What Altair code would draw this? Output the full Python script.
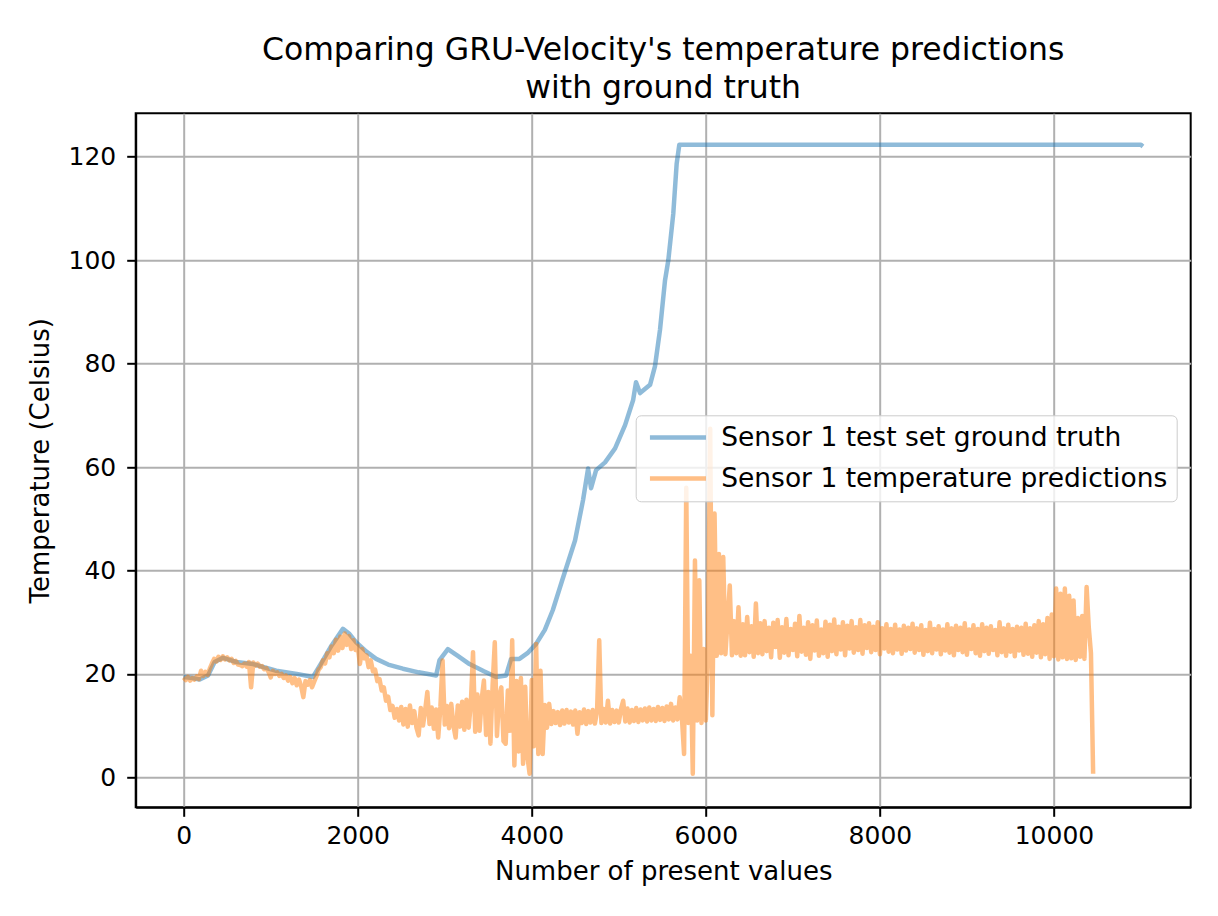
import altair as alt
import pandas as pd

GT_LABEL = "Sensor 1 test set ground truth"
PRED_LABEL = "Sensor 1 temperature predictions"

TITLE_LINES = ["Comparing GRU-Velocity's temperature predictions", "with ground truth"]
X_TITLE = "Number of present values"
Y_TITLE = "Temperature (Celsius)"
X_TICKS = [0, 2000, 4000, 6000, 8000, 10000]
Y_TICKS = [0, 20, 40, 60, 80, 100, 120]

# ground truth
gt_x = [0, 100, 184, 280, 356, 452, 605, 797, 1064, 1300, 1486, 1600, 1700, 1830, 1900,
        1983, 2100, 2212, 2350, 2519, 2700, 2901, 2939, 3036, 3150, 3284, 3450, 3590,
        3705, 3762, 3858, 3950, 4050, 4150, 4241, 4348, 4497, 4589, 4647, 4681, 4739,
        4842, 4957, 5072, 5164, 5198, 5244, 5359, 5416, 5473, 5531, 5569, 5626, 5665,
        5695, 11000, 11022]
gt_y = [19.4, 19.2, 18.9, 19.7, 22.3, 23.1, 22.3, 21.9, 20.6, 20.0, 19.4, 22.6, 25.5, 28.7, 27.8,
        26.1, 24.3, 22.9, 21.8, 21.0, 20.3, 19.7, 22.6, 24.8, 23.5, 21.9, 20.5, 19.4,
        19.7, 22.9, 22.9, 24.0, 25.8, 28.5, 32.3, 38.0, 45.8, 53.6, 59.7, 55.9, 59.4,
        60.9, 63.6, 68.1, 72.9, 76.4, 74.3, 75.9, 79.5, 86.5, 96.1, 100.0, 109.0, 118.7,
        122.3, 122.3, 122.0]

# predictions, one reading every PRED_STEP present values
PRED_STEP = 25
pred_y = [
    19.3, 18.8, 19.4, 18.7, 19.2, 18.9, 19.5, 19.0, 20.6, 19.6,
    20.4, 19.8, 21.0, 22.0, 22.9, 22.4, 23.3, 22.7, 23.4, 22.8,
    23.2, 22.6, 22.9, 22.1, 22.5, 21.8, 21.7, 21.5, 22.0, 21.4,
    22.3, 17.4, 22.2, 21.6, 22.0, 21.4, 21.5, 20.9, 21.1, 20.4,
    19.3, 20.6, 20.0, 20.3, 19.6, 20.0, 19.2, 19.7, 18.7, 19.4,
    18.2, 19.2, 17.8, 18.9, 17.6, 15.5, 18.6, 17.9, 18.8, 17.4,
    18.5, 19.5, 20.8, 21.3, 22.6, 22.0, 24.0, 23.2, 25.3, 24.0,
    26.6, 24.5, 27.2, 25.0, 27.8, 25.6, 27.3, 24.8, 26.5, 24.6,
    25.4, 21.9, 24.8, 23.0, 23.6, 21.3, 22.6, 20.5, 20.8, 18.6,
    19.0, 16.8, 17.4, 14.8, 15.6, 13.0, 13.8, 11.5, 13.2, 11.0,
    13.6, 10.2, 13.2, 9.8, 13.9, 10.5, 12.8, 9.6, 8.1, 13.4,
    10.0, 13.0, 16.5, 10.3, 13.5, 9.4, 13.1, 7.7, 13.6, 22.6,
    10.2, 13.8, 9.5, 14.2, 10.0, 7.7, 13.9, 9.8, 14.6, 9.2,
    15.0, 9.6, 14.4, 24.2, 8.8, 16.0, 9.0, 15.2, 18.7, 8.2,
    16.5, 6.5, 17.8, 26.1, 8.0, 15.6, 17.4, 7.0, 6.5, 16.8,
    9.0, 26.5, 2.3, 18.6, 5.0, 19.2, 2.6, 17.5, 4.0, 0.7,
    18.8, 6.0, 25.8, 4.5, 20.6, 4.5, 14.0, 9.6, 14.2, 10.3,
    12.8, 10.5, 12.6, 10.1, 12.9, 10.4, 13.0, 10.6, 12.7, 10.2,
    12.9, 8.4, 12.6, 10.5, 13.1, 10.3, 12.8, 10.6, 13.0, 10.4,
    12.7, 26.5, 10.5, 13.2, 10.6, 14.8, 10.4, 13.0, 10.7, 12.9,
    10.6, 13.2, 14.8, 10.8, 13.3, 10.6, 13.0, 10.9, 13.4, 10.7,
    13.1, 11.0, 13.3, 10.8, 13.5, 11.0, 13.2, 10.9, 13.6, 11.1,
    13.4, 10.9, 13.7, 11.2, 14.2, 11.0, 13.5, 11.2, 15.5, 11.5,
    4.5, 56.0, 10.5, 23.5, 0.7, 41.9, 11.0, 38.1, 10.5, 24.8,
    11.0, 24.5, 67.4, 12.0, 51.0, 23.5, 43.2, 24.0, 42.6, 23.8,
    30.5, 37.1, 23.6, 30.2, 24.0, 32.9, 23.5,
    29.6, 23.6, 31.0, 24.2, 29.2, 23.3, 33.6, 24.0, 29.8, 23.8,
    30.2, 24.4, 28.9, 23.2, 29.9, 25.2, 30.4, 23.1, 29.0, 24.1,
    30.6, 23.6, 28.7, 24.6, 29.7, 23.4, 31.2, 24.3, 28.9, 23.7,
    30.0, 22.9, 29.4, 24.5, 30.3, 23.5, 28.6, 24.0, 30.1, 23.3,
    29.5, 24.4, 30.5, 23.8, 29.1, 24.7, 30.0, 23.6, 29.3, 24.9,
    30.2, 24.1, 29.0, 24.6, 30.4, 23.9, 29.4, 25.0, 29.8, 24.2,
    29.1, 24.6, 30.0, 23.8, 28.8, 24.9, 29.6, 24.3, 28.7, 24.0,
    29.5, 24.7, 28.6, 23.9, 29.3, 24.5, 28.9, 24.8, 29.7, 24.1,
    28.8, 24.6, 29.4, 23.7, 28.5, 24.4, 29.9, 24.0, 28.7, 24.7,
    29.2, 23.8, 28.6, 24.5, 29.6, 24.1, 28.8, 23.6, 29.3, 24.6,
    28.9, 24.2, 29.8, 23.7, 28.6, 24.8, 29.4, 24.0, 28.7, 23.5,
    29.6, 24.4, 28.9, 23.9, 29.2, 24.6, 28.5, 23.6, 30.0, 24.2,
    28.8, 23.5, 29.5, 24.3, 28.7, 23.4, 29.1, 24.5, 28.9, 23.7,
    29.7, 23.9, 28.8, 23.3, 29.4, 24.1, 30.2, 23.2, 29.6, 23.8,
    30.8, 22.9, 31.5, 23.4, 36.5, 22.8, 35.5, 23.2, 36.5, 22.9,
    35.1, 23.0, 34.2, 22.7, 30.8, 23.3, 31.2, 22.9, 36.8, 29.0,
    24.0, 0.7,
]

rows = [{"x": x, "y": y, "series": GT_LABEL} for x, y in zip(gt_x, gt_y)]
rows += [{"x": i * PRED_STEP, "y": y, "series": PRED_LABEL} for i, y in enumerate(pred_y)]
df = pd.DataFrame(rows)

FONT = "DejaVu Sans"

chart = alt.Chart(df).mark_line(
    strokeWidth=4.5, opacity=0.5, strokeJoin="round", clip=True
).encode(
    x=alt.X("x:Q",
            scale=alt.Scale(domain=[-551, 11571], nice=False, zero=False),
            axis=alt.Axis(title=X_TITLE, values=X_TICKS, format="d",
                          labelPadding=7, titlePadding=10)),
    y=alt.Y("y:Q",
            scale=alt.Scale(domain=[-5.8, 128.4], nice=False, zero=False),
            axis=alt.Axis(title=Y_TITLE, values=Y_TICKS, format="d",
                          labelPadding=11, titlePadding=14)),
    color=alt.Color("series:N",
                    scale=alt.Scale(domain=[GT_LABEL, PRED_LABEL],
                                    range=["#1f77b4", "#ff7f0e"]),
                    legend=alt.Legend(title=None, orient="none",
                                      legendX=500, legendY=302,
                                      symbolType="M-1,0H6", symbolSize=256,
                                      symbolStrokeWidth=4.5, symbolOpacity=0.5,
                                      labelFont=FONT, labelFontSize=26.5,
                                      labelColor="black", labelOffset=50,
                                      labelLimit=0, rowPadding=14, padding=9,
                                      fillColor="rgba(255,255,255,0.8)",
                                      strokeColor="#cccccc", cornerRadius=5)),
    detail="series:N",
).properties(
    width=1055,
    height=694,
    background="white",
    title=alt.TitleParams(TITLE_LINES, font=FONT, fontSize=31.5,
                          fontWeight="normal", color="black", lineHeight=38,
                          offset=17, dy=33, baseline="alphabetic", anchor="middle"),
    autosize=alt.AutoSizeParams(type="none"),
    padding={"left": 127.7, "top": 105.3, "right": 12, "bottom": 100},
).configure_axis(
    labelFont=FONT, labelFontSize=25, labelColor="black",
    titleFont=FONT, titleFontSize=26, titleFontWeight="normal", titleColor="black",
    domainColor="black", domainWidth=2,
    tickColor="black", tickWidth=2, tickSize=9,
    grid=True, gridColor="#b0b0b0", gridWidth=2,
).configure_view(
    stroke="black", strokeWidth=2
)

chart.save("out.html", embed_options={"renderer": "svg", "actions": False})
